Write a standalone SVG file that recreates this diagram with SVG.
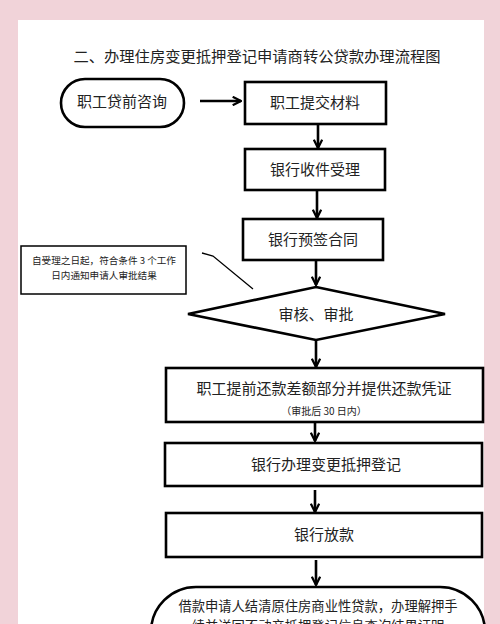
<svg xmlns="http://www.w3.org/2000/svg" width="500" height="624" viewBox="0 0 500 624">
<defs>
<marker id="arr" viewBox="0 0 10 10" refX="9" refY="5" markerWidth="4" markerHeight="4" orient="auto" markerUnits="strokeWidth">
<path d="M1,1 L9,5 L1,9" fill="none" stroke="#000" stroke-width="2.2" stroke-linejoin="miter"/>
</marker>
<style>
.shape{fill:#fff;stroke:#000;stroke-width:2.6}
.t{font-family:"Noto Sans CJK SC","Noto Sans",sans-serif;fill:#222;text-anchor:middle}
.lbl{font-size:15px}
.c{stroke:#000;stroke-width:2.6;fill:none;marker-end:url(#arr)}
</style>
</defs>
<rect x="0" y="0" width="500" height="624" fill="#f1d3d9"/>
<rect x="18" y="20" width="466" height="610" fill="#ffffff"/>
<text class="t" x="257" y="62" font-size="15.3">二、办理住房变更抵押登记申请商转公贷款办理流程图</text>

<g id="connectors">
<line class="c" x1="200" y1="101" x2="241" y2="101"/>
<line class="c" x1="318" y1="124" x2="318" y2="148"/>
<line class="c" x1="317" y1="190" x2="317" y2="218"/>
<line class="c" x1="316" y1="260" x2="316" y2="285"/>
<line class="c" x1="316" y1="340" x2="316" y2="367"/>
<line class="c" x1="315" y1="422" x2="315" y2="441"/>
<line class="c" x1="315" y1="490" x2="315" y2="512"/>
<line class="c" x1="316" y1="560" x2="316" y2="585"/>
<polyline points="202,253 213,256 253,289" fill="none" stroke="#000" stroke-width="1.3"/>
</g>

<g id="n-consult">
<rect class="shape" x="61" y="79" width="123" height="48" rx="24"/>
<text class="t lbl" x="122" y="107">职工贷前咨询</text>
</g>
<g id="n-submit">
<rect class="shape" x="245" y="82" width="141" height="42"/>
<text class="t lbl" x="315" y="108">职工提交材料</text>
</g>
<g id="n-accept">
<rect class="shape" x="245" y="149" width="140" height="41"/>
<text class="t lbl" x="315" y="175">银行收件受理</text>
</g>
<g id="n-presign">
<rect class="shape" x="243" y="219" width="140" height="41"/>
<text class="t lbl" x="313" y="245">银行预签合同</text>
</g>
<g id="n-note">
<rect x="21" y="246" width="165" height="48" fill="#fff" stroke="#000" stroke-width="1.5"/>
<text class="t" x="104" y="264" font-size="9.6">自受理之日起，符合条件 3 个工作</text>
<text class="t" x="104" y="279" font-size="9.6">日内通知申请人审批结果</text>
</g>
<g id="n-review">
<polygon class="shape" points="316,287 445,314 316,340 188,314"/>
<text class="t lbl" x="316" y="320">审核、审批</text>
</g>
<g id="n-repay">
<rect class="shape" x="166" y="368" width="317" height="54"/>
<text class="t lbl" x="324" y="394">职工提前还款差额部分并提供还款凭证</text>
<text class="t" x="324" y="415" font-size="10">（审批后 30 日内）</text>
</g>
<g id="n-register">
<rect class="shape" x="165" y="443" width="317" height="43"/>
<text class="t lbl" x="326" y="470">银行办理变更抵押登记</text>
</g>
<g id="n-release">
<rect class="shape" x="166" y="513" width="316" height="44"/>
<text class="t lbl" x="324" y="540">银行放款</text>
</g>
<g id="n-final">
<rect class="shape" x="151" y="587" width="334" height="90" rx="45"/>
<text class="t" x="318" y="611" font-size="13.3">借款申请人结清原住房商业性贷款，办理解押手</text>
<text class="t" x="318" y="631" font-size="13.3">续并送回不动产抵押登记信息查询结果证明</text>
</g>
</svg>
